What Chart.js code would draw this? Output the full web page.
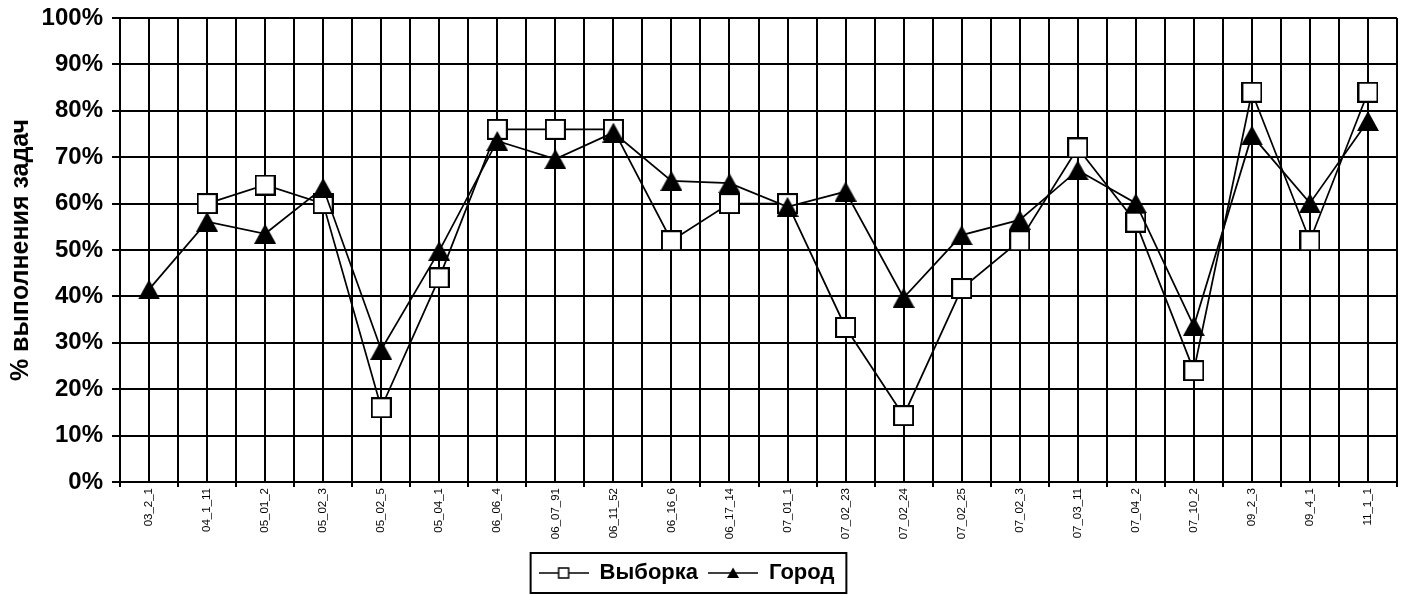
<!DOCTYPE html>
<html><head><meta charset="utf-8">
<script src="https://cdn.jsdelivr.net/npm/chart.js@4.4.1/dist/chart.umd.min.js"></script>
<style>html,body{margin:0;padding:0;background:#fff;}#wrap{width:1402px;height:596px;position:relative;}</style>
</head><body><div id="wrap"><canvas id="c"></canvas></div>
<script>
const categories = ['03_2_1','04_1_11','05_01_2','05_02_3','05_02_5','05_04_1','06_06_4','06_07_91','06_11_52','06_16_6','06_17_14','07_01_1','07_02_23','07_02_24','07_02_25','07_02_3','07_03_11','07_04_2','07_10_2','09_2_3','09_4_1','11_1_1'];
const vyborka = [null, 60, 64, 60, 16, 44, 76, 76, 76, 52, 60, 60, 33.3, 14.3, 41.7, 52, 72, 56, 24, 84, 52, 84];
const gorod = [41.5, 56.1, 53.5, 63.4, 28.5, 49.8, 73.5, 69.6, 75.3, 64.9, 64.4, 59.3, 62.6, 39.7, 53.2, 56.5, 67.2, 60.1, 33.6, 74.7, 60.1, 77.8];
const yTickLabels = ['0%','10%','20%','30%','40%','50%','60%','70%','80%','90%','100%'];
const seriesNames = ['Выборка','Город'];
const axisTitle = '% выполнения задач';

const FONT = "'Liberation Sans', Arial, sans-serif";

function squareMarker(){
  const c=document.createElement('canvas'); c.width=21; c.height=21;
  const g=c.getContext('2d'); g.fillStyle='#fff'; g.fillRect(1,1,19,19);
  g.strokeStyle='#000'; g.lineWidth=2; g.strokeRect(1,1,19,19); return c;
}
function triangleMarker(){
  const w=22,h=20; const c=document.createElement('canvas'); c.width=w; c.height=h;
  const g=c.getContext('2d'); g.fillStyle='#000'; g.beginPath();
  g.moveTo(w/2,0); g.lineTo(w,h); g.lineTo(0,h); g.closePath(); g.fill(); return c;
}
function legendMarker(kind){
  const w=50,h=14; const c=document.createElement('canvas'); c.width=w; c.height=h;
  const g=c.getContext('2d'); g.strokeStyle='#000'; g.lineWidth=1.5;
  g.beginPath(); g.moveTo(0,h/2); g.lineTo(w,h/2); g.stroke();
  if(kind==='square'){ g.fillStyle='#fff'; g.fillRect(w/2-5,h/2-5,10,10); g.strokeRect(w/2-5,h/2-5,10,10); }
  else { g.fillStyle='#000'; g.beginPath(); g.moveTo(w/2,h/2-5.5); g.lineTo(w/2+6,h/2+5); g.lineTo(w/2-6,h/2+5); g.closePath(); g.fill(); }
  return c;
}
const legendImgs=[legendMarker('square'),legendMarker('triangle')];

const LEGEND_SHIFT = 12;
const legendShift = {
  id:'legendShift',
  afterLayout(chart){
    const lg=chart.legend; if(!lg) return;
    lg.left-=LEGEND_SHIFT; lg.right-=LEGEND_SHIFT;
    (lg.legendHitBoxes||[]).forEach(b=>{ b.left-=LEGEND_SHIFT; });
  }
};
const legendBorder = {
  id:'legendBorder',
  afterDraw(chart){
    const lg=chart.legend; if(!lg||!lg.legendHitBoxes||!lg.legendHitBoxes.length) return;
    const hb=lg.legendHitBoxes; const ctx=chart.ctx;
    const left=Math.min(...hb.map(b=>b.left))-8;
    const right=Math.max(...hb.map(b=>b.left+b.width))+12;
    const top=Math.min(...hb.map(b=>b.top))-9;
    const bottom=Math.max(...hb.map(b=>b.top+b.height))+9;
    ctx.save(); ctx.strokeStyle='#000'; ctx.lineWidth=2;
    ctx.strokeRect(left,top,right-left,bottom-top); ctx.restore();
  }
};

new Chart(document.getElementById('c'),{
  type:'line',
  data:{
    labels:categories,
    datasets:[
      {label:seriesNames[0], data:vyborka, borderColor:'#000', backgroundColor:'#fff', borderWidth:1.75,
       pointStyle:squareMarker(), pointRadius:10, tension:0, order:1, xAxisID:'x'},
      {label:seriesNames[1], data:gorod, borderColor:'#000', backgroundColor:'#000', borderWidth:1.75,
       pointStyle:triangleMarker(), pointRadius:10, tension:0, order:0, xAxisID:'x'}
    ]
  },
  options:{
    responsive:true, maintainAspectRatio:false, animation:false, devicePixelRatio:1,
    layout:{autoPadding:false, padding:{top:18,right:5,bottom:2,left:0}},
    plugins:{
      legend:{position:'bottom',
        labels:{usePointStyle:true, pointStyleWidth:50, padding:10, color:'#000',
          font:{family:FONT,size:22,weight:'bold'},
          generateLabels:()=>seriesNames.map((name,i)=>({text:name, pointStyle:legendImgs[i], fillStyle:'#fff', strokeStyle:'#000', lineWidth:0, hidden:false, datasetIndex:i, fontColor:'#000'}))
        }},
      tooltip:{enabled:false}
    },
    scales:{
      x:{type:'category', offset:true, position:'bottom',
        grid:{offset:true, color:'#000', lineWidth:2, tickLength:5, drawTicks:true},
        border:{color:'#000', width:2},
        ticks:{autoSkip:false, maxRotation:90, minRotation:90, padding:1, color:'#000', font:{family:FONT,size:11.5}},
        afterFit(s){ s.height=70; s.paddingLeft=0; s.paddingRight=0; }},
      x2:{type:'category', labels:categories, offset:true, position:'bottom',
        grid:{offset:false, color:'#000', lineWidth:2, drawTicks:false},
        border:{display:false}, ticks:{display:false},
        afterFit(s){ s.height=0; s.paddingLeft=0; s.paddingRight=0; }},
      y:{min:0,max:100,
        ticks:{stepSize:10, callback:(v,i)=>yTickLabels[i], padding:9, color:'#000', font:{family:FONT,size:24,weight:'bold'}},
        grid:{color:'#000', lineWidth:2, tickLength:8},
        border:{color:'#000', width:2},
        title:{display:true, text:axisTitle, color:'#000', font:{family:FONT,size:25,weight:'bold'}, padding:{top:6,bottom:0}},
        afterFit(s){ s.width=120; s.paddingTop=0; s.paddingBottom=0; }}
    }
  },
  plugins:[legendShift, legendBorder]
});
</script></body></html>
